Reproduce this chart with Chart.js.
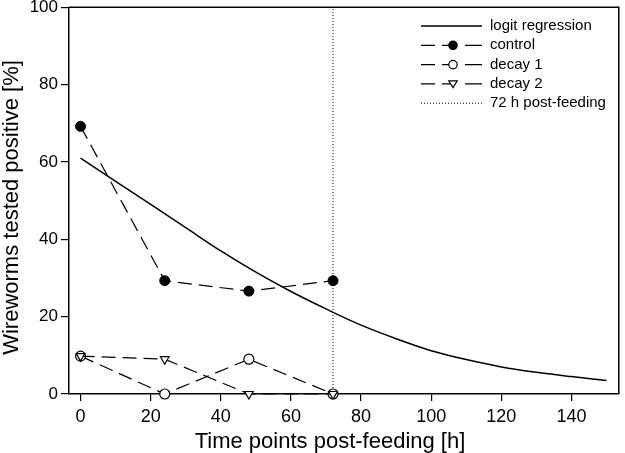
<!DOCTYPE html>
<html>
<head>
<meta charset="utf-8">
<script src="https://cdn.jsdelivr.net/npm/chart.js@4.4.1/dist/chart.umd.min.js"></script>
<style>
    body { margin: 0; background: #fff; }
    #wrap { width: 625px; height: 453px; position: relative; }
</style>
</head>
<body>
<div id="wrap"><canvas id="chart"></canvas></div>
<script>
// Time points (h) of the measurements
const timePoints = [0, 24, 48, 72];
// Wireworms tested positive (%)
const controlValues = [69.2, 29.3, 26.6, 29.3];
const decay1Values = [9.8, 0, 9.0, 0];
const decay2Values = [9.8, 9.0, 0, 0];
// Fitted logit regression curve, every 10 h
const regressionTimes = [0, 10, 20, 30, 40, 50, 60, 70, 80, 90, 100, 110, 120, 130, 140, 150];
const regressionValues = [61, 55, 49, 43, 37, 31.5, 26.5, 22, 17.8, 14.3, 11.2, 8.9, 7, 5.6, 4.5, 3.5];
// 72 h post-feeding marker
const markerTime = 72;
const markerRange = [0, 100];

const xTicks = [0, 20, 40, 60, 80, 100, 120, 140];
const yTicks = [0, 20, 40, 60, 80, 100];

const FONT = 'Liberation Sans, Arial, Helvetica, sans-serif';

const toPoints = (xs, ys) => xs.map((x, i) => ({ x: x, y: ys[i] }));

const datasets = [
    {
        label: 'logit regression',
        data: toPoints(regressionTimes, regressionValues),
        borderColor: '#000',
        borderWidth: 1.5,
        pointRadius: 0,
        cubicInterpolationMode: 'monotone',
        order: 4
    },
    {
        label: 'control',
        data: toPoints(timePoints, controlValues),
        borderColor: '#000',
        borderWidth: 1.2,
        borderDash: [14, 7],
        pointStyle: 'circle',
        pointRadius: 5,
        pointBackgroundColor: '#000',
        pointBorderColor: '#000',
        pointBorderWidth: 1,
        order: 1
    },
    {
        label: 'decay 1',
        data: toPoints(timePoints, decay1Values),
        borderColor: '#000',
        borderWidth: 1.2,
        borderDash: [14, 7],
        pointStyle: 'circle',
        pointRadius: 5,
        pointBackgroundColor: '#fff',
        pointBorderColor: '#000',
        pointBorderWidth: 1.2,
        order: 3
    },
    {
        label: 'decay 2',
        data: toPoints(timePoints, decay2Values),
        borderColor: '#000',
        borderWidth: 1.2,
        borderDash: [14, 7],
        pointStyle: 'triangle',
        pointRotation: 180,
        pointRadius: 5,
        pointBackgroundColor: '#fff',
        pointBorderColor: '#000',
        pointBorderWidth: 1.2,
        order: 2
    },
    {
        label: '72 h post-feeding',
        data: toPoints([markerTime, markerTime], markerRange),
        borderColor: '#000',
        borderWidth: 1,
        borderDash: [1, 2],
        pointRadius: 0,
        order: 5
    }
];
datasets.forEach(d => { d.clip = false; d.fill = false; });

// Top and right frame lines
const framePlugin = {
    id: 'frame',
    afterDraw(chart) {
        const { ctx, chartArea: a } = chart;
        ctx.save();
        ctx.strokeStyle = '#000';
        ctx.lineWidth = 1.5;
        ctx.beginPath();
        ctx.moveTo(a.left, a.top);
        ctx.lineTo(a.right, a.top);
        ctx.lineTo(a.right, a.bottom);
        ctx.stroke();
        ctx.restore();
    }
};

// Legend in the upper right corner: line sample, marker, label
const legendPlugin = {
    id: 'cornerLegend',
    afterDraw(chart) {
        const ctx = chart.ctx;
        const x0 = 421, x1 = 482, tx = 490, cx = 453;
        ctx.save();
        chart.data.datasets.forEach((ds, i) => {
            const y = 26 + i * 19.3;
            ctx.strokeStyle = '#000';
            ctx.lineWidth = ds.borderWidth;
            ctx.setLineDash(ds.borderDash || []);
            ctx.beginPath();
            if (ds.borderDash && ds.pointRadius) {
                // dash, short dash into the marker, gap, dash
                ctx.setLineDash([]);
                ctx.moveTo(x0, y); ctx.lineTo(x0 + 14, y);
                ctx.moveTo(x0 + 21, y); ctx.lineTo(cx, y);
                ctx.moveTo(cx + 12, y); ctx.lineTo(x1, y);
            } else {
                ctx.moveTo(x0, y); ctx.lineTo(x1, y);
            }
            ctx.stroke();
            ctx.setLineDash([]);
            if (ds.pointRadius) {
                const r = 4.2;
                ctx.fillStyle = ds.pointBackgroundColor;
                ctx.lineWidth = 1.2;
                ctx.beginPath();
                if (ds.pointStyle === 'triangle') {
                    ctx.moveTo(cx - r, y - r * 0.7);
                    ctx.lineTo(cx + r, y - r * 0.7);
                    ctx.lineTo(cx, y + r * 0.9);
                    ctx.closePath();
                } else {
                    ctx.arc(cx, y, r, 0, Math.PI * 2);
                }
                ctx.fill();
                ctx.stroke();
            }
            ctx.fillStyle = '#000';
            ctx.font = '15px ' + FONT;
            ctx.textBaseline = 'middle';
            ctx.textAlign = 'left';
            ctx.fillText(ds.label, tx, y);
        });
        ctx.restore();
    }
};

// Axis titles, placed as in the original figure
const titlesPlugin = {
    id: 'axisTitles',
    afterDraw(chart) {
        const ctx = chart.ctx;
        ctx.save();
        ctx.fillStyle = '#000';
        ctx.font = '22px ' + FONT;
        ctx.textAlign = 'center';
        ctx.textBaseline = 'alphabetic';
        ctx.fillText('Time points post-feeding [h]', 330, 448);
        ctx.translate(18, 207.5);
        ctx.rotate(-Math.PI / 2);
        ctx.fillText('Wireworms tested positive [%]', 0, 0);
        ctx.restore();
    }
};

new Chart(document.getElementById('chart'), {
    type: 'line',
    data: { datasets: datasets },
    options: {
        responsive: true,
        maintainAspectRatio: false,
        animation: false,
        layout: { padding: { top: 7, right: 2, left: 0, bottom: 0 } },
        plugins: {
            legend: { display: false },
            tooltip: { enabled: false }
        },
        scales: {
            x: {
                type: 'linear',
                min: -3.3,
                max: 153.5,
                afterBuildTicks: scale => { scale.ticks = xTicks.map(v => ({ value: v })); },
                afterFit: scale => { scale.height = 59; },
                border: { display: true, color: '#000', width: 1.5 },
                grid: { drawOnChartArea: false, color: '#000', tickLength: 7, lineWidth: 1.2 },
                ticks: { color: '#000', font: { family: FONT, size: 18 }, padding: 5, maxRotation: 0 }
            },
            y: {
                type: 'linear',
                min: 0,
                max: 100,
                afterBuildTicks: scale => { scale.ticks = yTicks.map(v => ({ value: v })); },
                afterFit: scale => { scale.width = 69; },
                border: { display: true, color: '#000', width: 1.5 },
                grid: { drawOnChartArea: false, color: '#000', tickLength: 8, lineWidth: 1.2 },
                ticks: { color: '#000', font: { family: FONT, size: 17, lineHeight: 0.5 }, padding: 3 }
            }
        }
    },
    plugins: [framePlugin, legendPlugin, titlesPlugin]
});
</script>
</body>
</html>
